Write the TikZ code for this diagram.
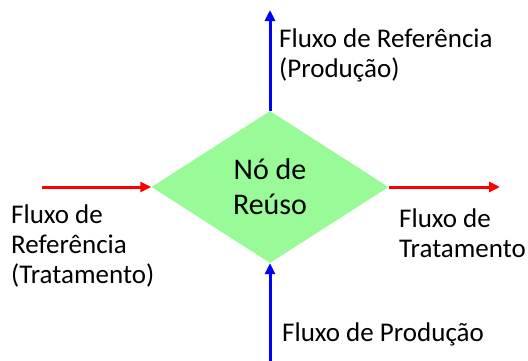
\documentclass[tikz,border=0pt]{standalone}
\usepackage{fontspec}
\setmainfont{Carlito}
\usetikzlibrary{shapes.geometric,arrows.meta}
\definecolor{reusogreen}{RGB}{152,251,152}
\tikzset{
  flowlabel/.style={anchor=west,align=left,inner sep=0pt,font=\fontsize{27}{30}\selectfont},
}
\begin{document}
\begin{tikzpicture}[x=1pt,y=-1pt]
\useasboundingbox (0,0) rectangle (528,360);
\node[diamond,fill=reusogreen,minimum width=237pt,minimum height=152pt,inner sep=0pt,
  align=center,font=\fontsize{30}{35}\selectfont] (reuso) at (270,187) {Nó de\\Reúso};
\coordinate (topend) at (270,10);
\coordinate (botstart) at (270,362);
\coordinate (leftstart) at (42,187);
\coordinate (rightend) at (500,187);
\node[flowlabel] (reflabprod) at (279,55) {Fluxo de Referência\\(Produção)};
\node[flowlabel] (reflabtrat) at (11,246) {Fluxo de\\Referência\\(Tratamento)};
\node[flowlabel] (tratlab) at (399,233) {Fluxo de\\Tratamento};
\node[flowlabel] (prodlab) at (282,334) {Fluxo de Produção};
\path[-{Triangle[length=11pt,width=10pt]},line width=3pt,blue]
(reuso.north) edge (topend)
(botstart) edge (reuso.south)
;
\path[-{Triangle[length=11pt,width=10pt]},line width=3pt,red]
(leftstart) edge (reuso.west)
(reuso.east) edge (rightend)
;
\end{tikzpicture}
\end{document}
